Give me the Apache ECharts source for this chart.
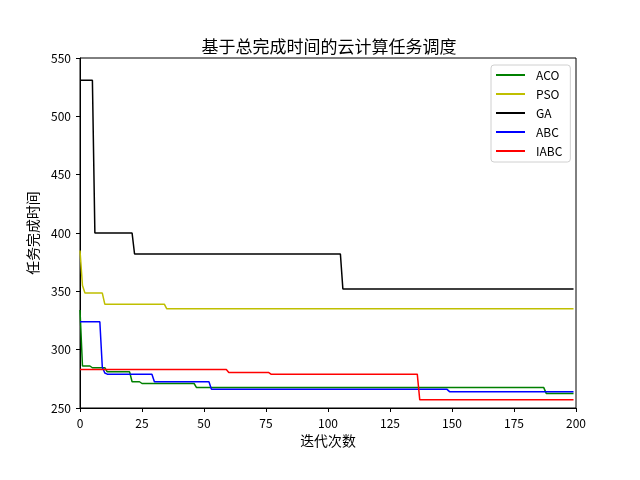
<!DOCTYPE html>
<html>
<head>
<meta charset="utf-8">
<script src="https://cdn.jsdelivr.net/npm/echarts@6/dist/echarts.min.js"></script>
<style>html,body{margin:0;padding:0;background:#fff}#c{width:640px;height:480px}</style>
</head>
<body>
<div id="c"></div>
<script>
// Breakpoints of each curve (iteration, completion time)
var acoX  = [0, 1, 4, 5, 10, 11, 20, 21, 24, 25, 46, 47, 187, 188, 199];
var acoY  = [334, 286, 286, 284.5, 284.5, 281, 281, 272.5, 272.5, 271, 271, 267.5, 267.5, 262.5, 262.5];
var psoX  = [0, 1, 2, 9, 10, 34, 35, 199];
var psoY  = [385, 355, 348.5, 348.5, 339, 339, 335, 335];
var gaX   = [0, 5, 6, 21, 22, 105, 106, 199];
var gaY   = [531, 531, 400, 400, 382, 382, 352, 352];
var abcX  = [0, 8, 9, 10, 11, 29, 30, 52, 53, 148, 149, 199];
var abcY  = [324, 324, 285, 280, 279, 279, 272.5, 272.5, 266, 266, 264, 264];
var iabcX = [0, 59, 60, 76, 77, 136, 137, 199];
var iabcY = [283, 283, 280.5, 280.5, 279, 279, 257, 257];

var names  = ['ACO', 'PSO', 'GA', 'ABC', 'IABC'];
var colors = ['#008000', '#bfbf00', '#000000', '#0000ff', '#ff0000'];
var xs = [acoX, psoX, gaX, abcX, iabcX];
var ys = [acoY, psoY, gaY, abcY, iabcY];

var FONT = '"Noto Sans CJK SC", sans-serif';

function pairs(x, y) { return x.map(function (v, i) { return [v, y[i]]; }); }

var series = names.map(function (n, i) {
  return {
    name: n, type: 'line', symbol: 'none', data: pairs(xs[i], ys[i]),
    lineStyle: { color: colors[i], width: 1.5 }, itemStyle: { color: colors[i] },
    animation: false
  };
});

var chart = echarts.init(document.getElementById('c'), null, { renderer: 'canvas' });
chart.setOption({
  backgroundColor: '#fff',
  animation: false,
  title: {
    text: '基于总完成时间的云计算任务调度', left: 324, top: 33, textAlign: 'center',
    textStyle: { fontFamily: FONT, fontSize: 17, fontWeight: 'normal', color: '#000' }
  },
  grid: { left: 80, right: 64, top: 58, bottom: 72, show: true, borderColor: '#000', borderWidth: 1 },
  legend: {
    orient: 'vertical', left: 491, top: 65, data: names,
    icon: 'rect', itemWidth: 29, itemHeight: 2, itemGap: 7,
    padding: [4, 8, 5, 5], borderColor: '#d0d0d0', borderWidth: 1, borderRadius: 3,
    backgroundColor: '#fff',
    textStyle: { fontFamily: FONT, fontSize: 12, color: '#000', padding: [0, 0, 0, 6] }
  },
  xAxis: {
    type: 'value', min: 0, max: 200, interval: 25,
    name: '迭代次数', nameLocation: 'middle', nameGap: 26,
    nameTextStyle: { fontFamily: FONT, fontSize: 13.9, color: '#000' },
    axisLine: { lineStyle: { color: '#000' } },
    axisTick: { inside: false, length: 4, lineStyle: { color: '#000' } },
    axisLabel: { fontFamily: FONT, fontSize: 12, color: '#000', margin: 9 },
    splitLine: { show: false }
  },
  yAxis: {
    type: 'value', min: 250, max: 550, interval: 50,
    name: '任务完成时间', nameLocation: 'middle', nameGap: 35,
    nameTextStyle: { fontFamily: FONT, fontSize: 13.9, color: '#000' },
    axisLine: { show: true, lineStyle: { color: '#000' } },
    axisTick: { show: true, inside: false, length: 4, lineStyle: { color: '#000' } },
    axisLabel: { fontFamily: FONT, fontSize: 12, color: '#000', margin: 9 },
    splitLine: { show: false }
  },
  series: series
});
</script>
</body>
</html>
